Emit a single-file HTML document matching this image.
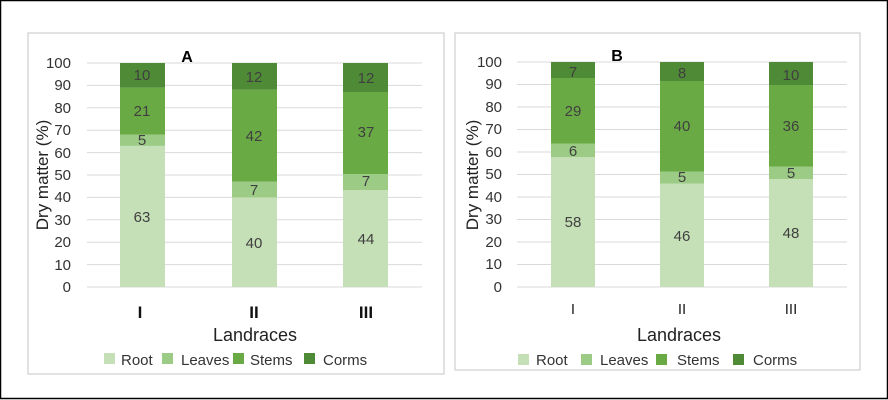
<!DOCTYPE html>
<html><head><meta charset="utf-8"><style>
body{margin:0;background:#fff}
svg{display:block;font-family:"Liberation Sans",sans-serif}
</style></head><body>
<svg width="888" height="400" viewBox="0 0 888 400" xmlns="http://www.w3.org/2000/svg">
<rect x="0.5" y="0.5" width="887" height="398" fill="#fff" stroke="#000" stroke-width="1.5"/>
<rect x="28" y="33" width="416" height="341" fill="#fff" stroke="#d9d9d9" stroke-width="1.5"/>
<rect x="455" y="33" width="405" height="337" fill="#fff" stroke="#d9d9d9" stroke-width="1.5"/>
<g id="A">
<g stroke="#d9d9d9" stroke-width="1">
<line x1="87" x2="422" y1="63" y2="63"/><line x1="87" x2="422" y1="85.4" y2="85.4"/><line x1="87" x2="422" y1="107.8" y2="107.8"/><line x1="87" x2="422" y1="130.2" y2="130.2"/><line x1="87" x2="422" y1="152.6" y2="152.6"/><line x1="87" x2="422" y1="175" y2="175"/><line x1="87" x2="422" y1="197.4" y2="197.4"/><line x1="87" x2="422" y1="219.8" y2="219.8"/><line x1="87" x2="422" y1="242.2" y2="242.2"/><line x1="87" x2="422" y1="264.6" y2="264.6"/><line x1="87" x2="422" y1="287" y2="287"/>
</g>
<g font-size="15" fill="#333" text-anchor="end">
<text x="71" y="68">100</text><text x="71" y="90">90</text><text x="71" y="113">80</text><text x="71" y="135">70</text><text x="71" y="158">60</text><text x="71" y="180">50</text><text x="71" y="202">40</text><text x="71" y="225">30</text><text x="71" y="247">20</text><text x="71" y="270">10</text><text x="71" y="292">0</text>
</g>
<text x="187" y="62" font-size="16" font-weight="bold" text-anchor="middle" fill="#000">A</text>
<text transform="translate(48,175) rotate(-90)" font-size="17" text-anchor="middle" fill="#222">Dry matter (%)</text>
<rect x="120" y="145.9" width="45" height="141.1" fill="#c5dfb6"/>
<rect x="120" y="134.7" width="45" height="11.2" fill="#9ccb86"/>
<rect x="120" y="87.7" width="45" height="47" fill="#6aaa45"/>
<rect x="120" y="63" width="45" height="24.7" fill="#4f8a36"/>
<rect x="232" y="197.4" width="45" height="89.6" fill="#c5dfb6"/>
<rect x="232" y="181.7" width="45" height="15.7" fill="#9ccb86"/>
<rect x="232" y="89.6" width="45" height="92.1" fill="#6aaa45"/>
<rect x="232" y="63" width="45" height="26.6" fill="#4f8a36"/>
<rect x="343" y="190" width="45" height="97" fill="#c5dfb6"/>
<rect x="343" y="174" width="45" height="16" fill="#9ccb86"/>
<rect x="343" y="92" width="45" height="82" fill="#6aaa45"/>
<rect x="343" y="63" width="45" height="29" fill="#4f8a36"/>
<g font-size="15" fill="#404040" text-anchor="middle">
<text x="142" y="80">10</text><text x="142" y="116">21</text><text x="142" y="145">5</text><text x="142" y="222">63</text>
<text x="254" y="82">12</text><text x="254" y="141">42</text><text x="254" y="195">7</text><text x="254" y="248">40</text>
<text x="366" y="83">12</text><text x="366" y="137">37</text><text x="366" y="186">7</text><text x="366" y="244">44</text>
</g>
<g font-size="17" fill="#111" text-anchor="middle" font-weight="bold">
<text x="140" y="318">I</text><text x="254" y="318">II</text><text x="366" y="318">III</text>
</g>
<text x="255" y="341" font-size="18" text-anchor="middle" fill="#222">Landraces</text>
<g font-size="15" fill="#333">
<rect x="104" y="353" width="11" height="11" fill="#c5dfb6"/><text x="121" y="365">Root</text>
<rect x="162" y="353" width="11" height="11" fill="#9ccb86"/><text x="181" y="365">Leaves</text>
<rect x="233" y="353" width="11" height="11" fill="#6aaa45"/><text x="250" y="365">Stems</text>
<rect x="304" y="353" width="11" height="11" fill="#4f8a36"/><text x="323" y="365">Corms</text>
</g>
</g>
<g id="B">
<g stroke="#d9d9d9" stroke-width="1">
<line x1="517" x2="847" y1="62" y2="62"/><line x1="517" x2="847" y1="84.5" y2="84.5"/><line x1="517" x2="847" y1="107" y2="107"/><line x1="517" x2="847" y1="129.5" y2="129.5"/><line x1="517" x2="847" y1="152" y2="152"/><line x1="517" x2="847" y1="174.5" y2="174.5"/><line x1="517" x2="847" y1="197" y2="197"/><line x1="517" x2="847" y1="219.5" y2="219.5"/><line x1="517" x2="847" y1="242" y2="242"/><line x1="517" x2="847" y1="264.5" y2="264.5"/><line x1="517" x2="847" y1="287" y2="287"/>
</g>
<g font-size="15" fill="#333" text-anchor="end">
<text x="502" y="67">100</text><text x="502" y="89">90</text><text x="502" y="112">80</text><text x="502" y="134">70</text><text x="502" y="157">60</text><text x="502" y="179">50</text><text x="502" y="202">40</text><text x="502" y="224">30</text><text x="502" y="247">20</text><text x="502" y="269">10</text><text x="502" y="292">0</text>
</g>
<text x="617" y="61" font-size="16" font-weight="bold" text-anchor="middle" fill="#000">B</text>
<text transform="translate(478,175) rotate(-90)" font-size="17" text-anchor="middle" fill="#222">Dry matter (%)</text>
<rect x="551" y="157" width="44" height="130" fill="#c5dfb6"/>
<rect x="551" y="143.5" width="44" height="13.5" fill="#9ccb86"/>
<rect x="551" y="78" width="44" height="65.5" fill="#6aaa45"/>
<rect x="551" y="62" width="44" height="16" fill="#4f8a36"/>
<rect x="660" y="183.5" width="44" height="103.5" fill="#c5dfb6"/>
<rect x="660" y="171.5" width="44" height="12" fill="#9ccb86"/>
<rect x="660" y="81" width="44" height="90.5" fill="#6aaa45"/>
<rect x="660" y="62" width="44" height="19" fill="#4f8a36"/>
<rect x="769" y="179" width="44" height="108" fill="#c5dfb6"/>
<rect x="769" y="166.5" width="44" height="12.5" fill="#9ccb86"/>
<rect x="769" y="85" width="44" height="81.5" fill="#6aaa45"/>
<rect x="769" y="62" width="44" height="23" fill="#4f8a36"/>
<g font-size="15" fill="#404040" text-anchor="middle">
<text x="573" y="77">7</text><text x="573" y="116">29</text><text x="573" y="156">6</text><text x="573" y="227">58</text>
<text x="682" y="78">8</text><text x="682" y="131">40</text><text x="682" y="182">5</text><text x="682" y="241">46</text>
<text x="791" y="80">10</text><text x="791" y="131">36</text><text x="791" y="178">5</text><text x="791" y="238">48</text>
</g>
<g font-size="15" fill="#222" text-anchor="middle">
<text x="573" y="314">I</text><text x="682" y="314">II</text><text x="791" y="314">III</text>
</g>
<text x="679" y="341" font-size="18" text-anchor="middle" fill="#222">Landraces</text>
<g font-size="15" fill="#333">
<rect x="518" y="354" width="11" height="11" fill="#c5dfb6"/><text x="536" y="365">Root</text>
<rect x="581" y="354" width="11" height="11" fill="#9ccb86"/><text x="600" y="365">Leaves</text>
<rect x="656" y="354" width="11" height="11" fill="#6aaa45"/><text x="677" y="365">Stems</text>
<rect x="733" y="354" width="11" height="11" fill="#4f8a36"/><text x="753" y="365">Corms</text>
</g>
</g>
</svg>
</body></html>
